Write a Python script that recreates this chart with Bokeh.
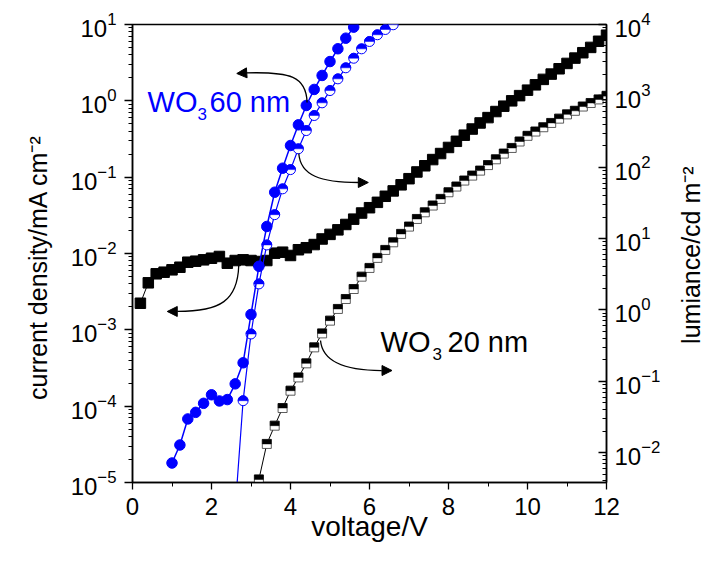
import math
import numpy as np
from bokeh.plotting import figure
from bokeh.layouts import row
from bokeh.models import (Range1d, LogScale, LogAxis, FixedTicker, Label, Arrow,
                          NormalHead, ColumnDataSource)
from bokeh.embed import file_html
from bokeh.resources import INLINE

# ---------------- data ----------------
# WO3 60 nm : current density (left axis), filled blue circles
v60_j = [1.0, 1.2, 1.4, 1.6, 1.8, 2.0, 2.2, 2.4, 2.6, 2.8, 3.0, 3.2, 3.4, 3.6,
         3.8, 4.0, 4.2, 4.4, 4.6, 4.8, 5.0, 5.2, 5.4, 5.6]
j60 = [1.8e-5, 3.1e-5, 6.8e-5, 8.3e-5, 1.09e-4, 1.41e-4, 1.17e-4, 1.22e-4,
       1.96e-4, 3.7e-4, 1.59e-3, 6.8e-3, 2.26e-2, 6.35e-2, 0.131, 0.26, 0.485,
       0.869, 1.41, 2.15, 3.27, 4.81, 6.62, 9.23]

# WO3 60 nm : luminance (right axis), half-filled blue circles
v60_l = [2.6, 2.8, 3.0, 3.2, 3.4, 3.6, 3.8, 4.0, 4.2, 4.4, 4.6, 4.8, 5.0, 5.2,
         5.4, 5.6, 5.8, 6.0, 6.2, 6.4, 6.6]
l60 = [1.6e-3, 0.0533, 0.459, 2.31, 8.13, 21.6, 49.7, 92.5, 181, 326, 530, 798,
       1186, 1730, 2472, 3365, 4560, 5780, 7180, 8510, 9910]

# WO3 20 nm : current density (left axis), filled black squares
v20_j = [0.2, 0.4, 0.6, 0.8, 1.0, 1.2, 1.4, 1.6, 1.8, 2.0, 2.2, 2.4, 2.6, 2.8,
         3.0, 3.2, 3.4, 3.6, 3.8, 4.0, 4.2, 4.4, 4.6, 4.8, 5.0, 5.2, 5.4, 5.6,
         5.8, 6.0, 6.2, 6.4, 6.6, 6.8, 7.0, 7.2, 7.4, 7.6, 7.8, 8.0, 8.2, 8.4,
         8.6, 8.8, 9.0, 9.2, 9.4, 9.6, 9.8, 10.0, 10.2, 10.4, 10.6, 10.8, 11.0,
         11.2, 11.4, 11.6, 11.8, 12.0]
j20 = [2.23e-3, 4.13e-3, 5.42e-3, 5.69e-3, 6.11e-3, 6.61e-3, 7.69e-3, 7.93e-3,
       8.26e-3, 8.67e-3, 9.14e-3, 7.46e-3, 8.09e-3, 8.26e-3, 8.09e-3, 7.85e-3,
       8.09e-3, 1.01e-2, 1.04e-2, 9.42e-3, 1.12e-2, 1.19e-2, 1.31e-2, 1.55e-2,
       1.78e-2, 2.04e-2, 2.40e-2, 2.82e-2, 3.39e-2, 3.98e-2, 4.68e-2, 5.62e-2,
       6.61e-2, 7.94e-2, 9.55e-2, 0.117, 0.141, 0.170, 0.204, 0.245, 0.295,
       0.355, 0.427, 0.513, 0.603, 0.724, 0.851, 1.00, 1.17, 1.38, 1.62, 1.91,
       2.24, 2.63, 3.09, 3.63, 4.27, 5.01, 6.03, 7.24]

# WO3 20 nm : luminance (right axis), half-filled black squares
v20_l = [3.2, 3.4, 3.6, 3.8, 4.0, 4.2, 4.4, 4.6, 4.8, 5.0, 5.2, 5.4, 5.6, 5.8,
         6.0, 6.2, 6.4, 6.6, 6.8, 7.0, 7.2, 7.4, 7.6, 7.8, 8.0, 8.2, 8.4, 8.6,
         8.8, 9.0, 9.2, 9.4, 9.6, 9.8, 10.0, 10.2, 10.4, 10.6, 10.8, 11.0, 11.2,
         11.4, 11.6, 11.8, 12.0]
l20 = [4.2e-3, 0.0132, 0.0238, 0.0421, 0.0736, 0.113, 0.178, 0.298, 0.468,
       0.706, 1.03, 1.42, 1.96, 2.92, 3.87, 5.35, 6.92, 8.85, 11.6, 14.7, 18.8,
       23.3, 29.0, 35.9, 44.5, 53.5, 64.9, 76.2, 89.5, 107, 129, 155, 186, 229,
       275, 316, 363, 417, 479, 550, 617, 708, 794, 891, 1000]

x_ticks = [0, 2, 4, 6, 8, 10, 12]
x_minor = [1, 3, 5, 7, 9, 11]
left_exps = [-5, -4, -3, -2, -1, 0, 1]
right_exps = [-2, -1, 0, 1, 2, 3, 4]

FONT = "Liberation Sans"
BLUE = "#0000ff"
NB = "\u00a0"

# ---------------- main figure ----------------
W, H = 664, 558
p = figure(width=W, height=H, x_range=Range1d(0, 12),
           y_range=Range1d(1e-5, 10), y_axis_type="log",
           output_backend="svg", toolbar_location=None,
           min_border_left=132, min_border_right=W - 606, min_border_top=24,
           min_border_bottom=H - 482)
p.background_fill_color = "white"
p.border_fill_color = "white"
p.xgrid.visible = False
p.ygrid.visible = False
p.outline_line_color = "black"
p.outline_line_width = 1.5

right_lo = 10 ** -2.42
p.extra_y_ranges = {"lum": Range1d(right_lo, 1e4)}
p.extra_y_scales = {"lum": LogScale()}
raxis = LogAxis(y_range_name="lum")
p.add_layout(raxis, "right")

xa = p.xaxis[0]
ya = p.yaxis[0]

xa.ticker = FixedTicker(ticks=x_ticks, minor_ticks=x_minor)
ya.ticker = FixedTicker(ticks=[10.0 ** e for e in left_exps],
                        minor_ticks=[m * 10.0 ** e for e in left_exps[:-1] for m in range(2, 10)])
raxis.ticker = FixedTicker(ticks=[10.0 ** e for e in right_exps],
                           minor_ticks=[m * 10.0 ** e for e in [-3] + right_exps[:-1]
                                        for m in range(2, 10) if m * 10.0 ** e >= right_lo])

for ax in (xa, ya, raxis):
    ax.axis_line_color = "black"
    ax.axis_line_width = 1.5
    ax.major_tick_line_color = "black"
    ax.minor_tick_line_color = "black"
    ax.major_tick_line_width = 1.3
    ax.minor_tick_line_width = 1.0
    ax.major_label_text_font = FONT
    ax.major_label_text_font_size = "24px"
    ax.major_label_text_color = "black"
    ax.axis_label_text_font = FONT
    ax.axis_label_text_font_size = "25px"
    ax.axis_label_text_font_style = "normal"
    ax.axis_label_text_color = "black"

xa.major_tick_out = 7
xa.major_tick_in = 0
xa.minor_tick_out = 4
xa.minor_tick_in = 0
xa.axis_label = "voltage/V"
xa.axis_label_text_font_size = "28px"
xa.major_label_standoff = 8
xa.axis_label_standoff = -7

ya.major_tick_out = 8
ya.major_tick_in = 0
ya.minor_tick_out = 4
ya.minor_tick_in = 0
ya.axis_label = "current density/mA cm\u207b\u00b2" + NB * 4
ya.major_label_standoff = 8
ya.axis_label_standoff = 16

raxis.major_tick_out = 0
raxis.major_tick_in = 8
raxis.minor_tick_out = 0
raxis.minor_tick_in = 4
raxis.major_label_standoff = 8

# ---------------- data marks ----------------
src20j = ColumnDataSource(dict(v=v20_j, y=j20))
p.line("v", "y", source=src20j, line_color="black", line_width=1)
p.scatter("v", "y", source=src20j, marker="square", size=10.5,
          fill_color="black", line_color="black")

# half-filled black squares (luminance, right axis)
half_px = 4.5
dec_px = 458.0 / (4 - math.log10(right_lo))
v20_arr = np.array(v20_l)
l20_arr = np.array(l20)
src20l = ColumnDataSource(dict(v=v20_l, y=l20,
                               left=v20_arr - half_px * 12 / 474,
                               right=v20_arr + half_px * 12 / 474,
                               top=l20_arr * 10 ** (half_px / dec_px)))
p.line("v", "y", source=src20l, line_color="black", line_width=1, y_range_name="lum")
p.scatter("v", "y", source=src20l, marker="square", size=9, fill_color="white",
          line_color="#333333", line_width=0.8, y_range_name="lum")
p.quad(left="left", right="right", bottom="y", top="top", source=src20l,
       fill_color="black", line_color="black", line_width=0.5, y_range_name="lum")

# WO3 60 nm luminance (half-filled blue circles)
src60l = ColumnDataSource(dict(v=v60_l, y=l60))
p.line("v", "y", source=src60l, line_color=BLUE, line_width=1.2, y_range_name="lum")
p.scatter("v", "y", source=src60l, marker="circle", size=10, fill_color="white",
          line_color=BLUE, line_width=1, y_range_name="lum")
p.wedge("v", "y", source=src60l, radius=5, radius_units="screen",
        start_angle=0, end_angle=math.pi, fill_color=BLUE, line_color=BLUE,
        line_width=0.5, y_range_name="lum")

# WO3 60 nm current density (filled blue circles)
src60j = ColumnDataSource(dict(v=v60_j, y=j60))
p.line("v", "y", source=src60j, line_color=BLUE, line_width=1.5)
p.scatter("v", "y", source=src60j, marker="circle", size=10.5, fill_color=BLUE,
          line_color=BLUE)

# ---------------- curved arrows ----------------
arrows = [
    # (x0, y0, cx0, cy0, cx1, cy1, x1, y1, tip_x, tip_y)
    (4.42, 0.95, 4.40, 2.09, 4.00, 2.42, 2.86, 2.32, 2.64, 2.28),
    (4.21, 0.204, 4.25, 0.105, 4.76, 0.0851, 5.72, 0.0851, 5.97, 0.0851),
    (2.69, 6.97e-3, 2.66, 2.42e-3, 2.23, 1.74e-3, 1.14, 1.74e-3, 0.88, 1.74e-3),
    (4.76, 7.24e-4, 4.81, 3.73e-4, 5.39, 2.93e-4, 6.30, 2.93e-4, 6.57, 2.93e-4),
]
for (x0, y0, cx0, cy0, cx1, cy1, x1, y1, tx, ty) in arrows:
    p.bezier(x0=[x0], y0=[y0], cx0=[cx0], cy0=[cy0], cx1=[cx1], cy1=[cy1],
             x1=[x1], y1=[y1], line_color="black", line_width=1.3)
    p.add_layout(Arrow(end=NormalHead(size=10, fill_color="black", line_color="black"),
                       x_start=x1, y_start=y1, x_end=tx, y_end=ty,
                       line_color="black", line_width=1.3))

# ---------------- text annotations ----------------
def wo3_label(x, y, rest, color, sub_dx, rest_dx):
    p.add_layout(Label(x=x, y=y, text="WO", text_color=color, text_font=FONT,
                       text_font_size="29px", text_baseline="alphabetic",
                       y_offset=10))
    p.add_layout(Label(x=x, y=y, text="3", text_color=color, text_font=FONT,
                       text_font_size="17px", text_baseline="alphabetic",
                       x_offset=sub_dx, y_offset=-2))
    p.add_layout(Label(x=x, y=y, text=rest, text_color=color, text_font=FONT,
                       text_font_size="29px", text_baseline="alphabetic",
                       x_offset=rest_dx, y_offset=10))

wo3_label(0.38, 0.724, "60 nm", BLUE, 50, 62)
wo3_label(6.28, 5.05e-4, "20 nm", "black", 52, 67)

# ---------------- right-hand axis title (reads bottom to top) ----------------
TW = 41
pt = figure(width=TW, height=H, x_range=Range1d(0, TW), y_range=Range1d(0, H),
            output_backend="svg", toolbar_location=None,
            x_axis_location=None, y_axis_location=None,
            min_border_left=0, min_border_right=0, min_border_top=0,
            min_border_bottom=0)
pt.outline_line_color = None
pt.xgrid.visible = False
pt.ygrid.visible = False
pt.background_fill_color = "white"
pt.border_fill_color = "white"
pt.add_layout(Label(x=26, y=H - 281, text="lumiance/cd m\u207b\u00b2",
                    angle=math.pi / 2, text_align="center", text_baseline="middle",
                    text_font=FONT, text_font_size="25px", text_color="black"))

layout = row(p, pt, spacing=0)
open("out.html", "w").write(file_html(layout, INLINE))
